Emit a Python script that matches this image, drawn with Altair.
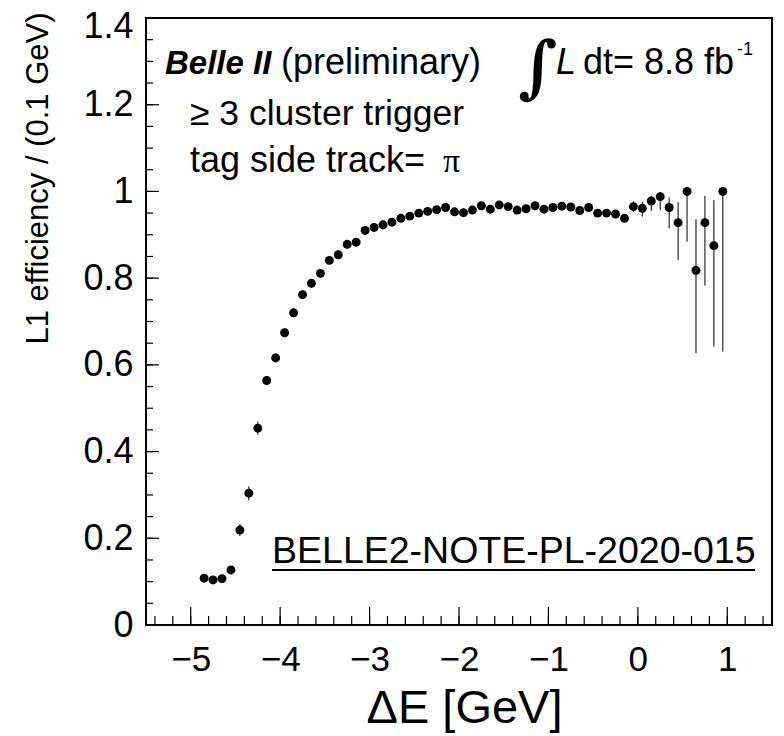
import altair as alt
import pandas as pd

# bin centres (0.1 GeV bins) and measured efficiency
delta_e = [-4.85, -4.75, -4.65, -4.55, -4.45, -4.35, -4.25, -4.15, -4.05,
           -3.95, -3.85, -3.75, -3.65, -3.55, -3.45, -3.35, -3.25, -3.15, -3.05,
           -2.95, -2.85, -2.75, -2.65, -2.55, -2.45, -2.35, -2.25, -2.15, -2.05,
           -1.95, -1.85, -1.75, -1.65, -1.55, -1.45, -1.35, -1.25, -1.15, -1.05,
           -0.95, -0.85, -0.75, -0.65, -0.55, -0.45, -0.35, -0.25, -0.15, -0.05,
           0.05, 0.15, 0.25, 0.35, 0.45, 0.55, 0.65, 0.75, 0.85, 0.95]
efficiency = [0.108, 0.104, 0.107, 0.127, 0.219, 0.304, 0.454, 0.564, 0.616,
              0.674, 0.720, 0.762, 0.788, 0.811, 0.841, 0.854, 0.878, 0.883, 0.910,
              0.917, 0.923, 0.929, 0.938, 0.943, 0.950, 0.954, 0.958, 0.963, 0.953,
              0.951, 0.957, 0.967, 0.959, 0.969, 0.965, 0.957, 0.960, 0.967, 0.959,
              0.963, 0.966, 0.964, 0.956, 0.963, 0.950, 0.950, 0.948, 0.938, 0.965,
              0.961, 0.978, 0.988, 0.963, 0.928, 1.000, 0.818, 0.928, 0.875, 1.000]
err_up = [0.008, 0.008, 0.008, 0.008, 0.014, 0.016, 0.015, 0.010, 0.010,
          0.010, 0.010, 0.010, 0.010, 0.010, 0.008, 0.008, 0.008, 0.008, 0.008,
          0.008, 0.008, 0.008, 0.008, 0.008, 0.008, 0.008, 0.008, 0.008, 0.008,
          0.008, 0.008, 0.008, 0.008, 0.008, 0.008, 0.008, 0.008, 0.008, 0.008,
          0.008, 0.008, 0.008, 0.008, 0.008, 0.008, 0.008, 0.008, 0.008, 0.012,
          0.015, 0.012, 0.010, 0.023, 0.047, 0.000, 0.118, 0.062, 0.105, 0.000]
err_down = [0.008, 0.008, 0.008, 0.008, 0.014, 0.016, 0.015, 0.010, 0.010,
            0.010, 0.010, 0.010, 0.010, 0.010, 0.008, 0.008, 0.008, 0.008, 0.008,
            0.008, 0.008, 0.008, 0.008, 0.008, 0.008, 0.008, 0.008, 0.008, 0.008,
            0.008, 0.008, 0.008, 0.008, 0.008, 0.008, 0.008, 0.008, 0.008, 0.008,
            0.008, 0.008, 0.008, 0.008, 0.008, 0.008, 0.008, 0.008, 0.008, 0.012,
            0.019, 0.023, 0.031, 0.048, 0.086, 0.116, 0.191, 0.145, 0.233, 0.369]

x_major = [-5, -4, -3, -2, -1, 0, 1]
x_minor = [round(-5.4 + 0.2 * i, 2) for i in range(35)]
y_major = [0, 0.2, 0.4, 0.6, 0.8, 1.0, 1.2, 1.4]
y_minor = [round(0.05 * i, 2) for i in range(29)]

W, H = 626, 607
FONT = "Liberation Sans"

df = pd.DataFrame({"x": delta_e, "y": efficiency})
df["lo"] = [v - d for v, d in zip(efficiency, err_down)]
df["hi"] = [v + u for v, u in zip(efficiency, err_up)]

xs = alt.Scale(domain=[-5.5, 1.5], nice=False, zero=False)
ys = alt.Scale(domain=[0, 1.4], nice=False, zero=False)

base = alt.Chart(df)

errbars = base.mark_rule(color="black", strokeWidth=1).encode(
    x=alt.X("x:Q", scale=xs),
    y=alt.Y("lo:Q", scale=ys),
    y2="hi:Q",
)

points = base.mark_circle(color="black", size=80, opacity=1).encode(
    x=alt.X("x:Q", scale=xs, axis=alt.Axis(
        values=x_major, format="~g", ticks=False, tickSize=0, domain=False, grid=False,
        labelFontSize=35, labelFont=FONT, labelColor="black", labelPadding=17,
        title="ΔE [GeV]", titleFont=FONT, titleFontSize=47, titleFontWeight="normal",
        titleColor="black", titleX=318, titleY=97, titleAlign="center",
        titleBaseline="alphabetic")),
    y=alt.Y("y:Q", scale=ys, axis=alt.Axis(
        values=y_major, format="~g", ticks=False, tickSize=0, domain=False, grid=False,
        labelFontSize=36, labelFont=FONT, labelColor="black", labelPadding=13,
        labelOffset={"condition": {"test": "datum.value > 1.3", "value": 8}, "value": 0},
        title="L1 efficiency / (0.1 GeV)", titleFont=FONT, titleFontSize=31,
        titleFontWeight="normal", titleColor="black", titleAngle=270,
        titleX=-108, titleY=160, titleAlign="center", titleBaseline="middle")),
)

xmaj = alt.Chart(pd.DataFrame({"v": x_major})).mark_rule(color="black", strokeWidth=1.2).encode(
    x=alt.X("v:Q", scale=xs), y=alt.value(H), y2=alt.value(H - 18))
xmin = alt.Chart(pd.DataFrame({"v": x_minor})).mark_rule(color="black", strokeWidth=1.2).encode(
    x=alt.X("v:Q", scale=xs), y=alt.value(H), y2=alt.value(H - 9))
ymaj = alt.Chart(pd.DataFrame({"v": y_major})).mark_rule(color="black", strokeWidth=1.2).encode(
    y=alt.Y("v:Q", scale=ys), x=alt.value(0), x2=alt.value(13))
ymin = alt.Chart(pd.DataFrame({"v": y_minor})).mark_rule(color="black", strokeWidth=1.2).encode(
    y=alt.Y("v:Q", scale=ys), x=alt.value(0), x2=alt.value(7))


def label(text, px, py, size, font=FONT, style="normal", weight="normal"):
    return alt.Chart(pd.DataFrame({"t": [text]})).mark_text(
        align="left", baseline="alphabetic", font=font, fontSize=size,
        fontStyle=style, fontWeight=weight, color="black").encode(
        x=alt.value(px), y=alt.value(py), text="t:N")


texts = [
    label("Belle II", 19, 56, 33, style="italic", weight="bold"),
    label("(preliminary)", 135, 56, 36),
    label("∫", 372, 72, 68, font="DejaVu Serif", weight="bold"),
    label("L", 410, 56, 36, style="italic"),
    label("dt= 8.8 fb", 437, 56, 36),
    label("-1", 591, 37, 18),
    label("≥ 3 cluster trigger", 44, 107, 35.5),
    label("tag side track=", 44, 154, 36),
    label("π", 297, 154, 34, font="Liberation Serif"),
    label("BELLE2-NOTE-PL-2020-015", 126, 545, 37.5),
]

underline = alt.Chart(pd.DataFrame({"t": [0]})).mark_rule(color="black", strokeWidth=2).encode(
    x=alt.value(126), x2=alt.value(609), y=alt.value(552))

chart = alt.layer(xmin, xmaj, ymin, ymaj, errbars, points, *texts, underline).properties(
    width=W, height=H,
    background="white",
    autosize=alt.AutoSizeParams(type="none"),
    padding={"left": 138, "top": 10, "right": 4, "bottom": 110},
).configure_view(stroke="black", strokeWidth=2)

chart.save("out.html", embed_options={"renderer": "svg", "actions": False})
